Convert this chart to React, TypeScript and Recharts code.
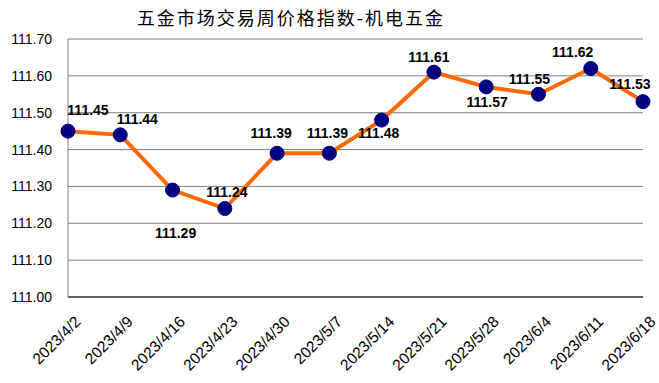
import { CartesianGrid, LabelList, Line, LineChart, XAxis, YAxis } from "recharts";

const weeks = [
  "2023/4/2",
  "2023/4/9",
  "2023/4/16",
  "2023/4/23",
  "2023/4/30",
  "2023/5/7",
  "2023/5/14",
  "2023/5/21",
  "2023/5/28",
  "2023/6/4",
  "2023/6/11",
  "2023/6/18",
];

const indexValues = [
  111.45, 111.44, 111.29, 111.24, 111.39, 111.39, 111.48, 111.61, 111.57,
  111.55, 111.62, 111.53,
];

const yTicks = [111.0, 111.1, 111.2, 111.3, 111.4, 111.5, 111.6, 111.7];

// where each value label sits relative to its dot (dx, dy of the text centre)
const labelOffsets: Array<[number, number]> = [
  [20, -21],
  [17, -16],
  [3, 43],
  [2, -17],
  [-6, -20],
  [-2, -20],
  [-3, 13],
  [-5, -15],
  [1, 15],
  [-9, -15],
  [-18, -16],
  [-13, -18],
];

const data = weeks.map((week, i) => ({ week, value: indexValues[i] }));

const FONT = "'Liberation Sans', Arial, sans-serif";

function WeekTick(props: any) {
  const { x, y, payload } = props;
  return (
    <g transform={`translate(${x + 6},${y + 10})`}>
      <text
        transform="rotate(-45)"
        textAnchor="end"
        dy="0.7em"
        fill="#000"
        fontSize={15.5}
        fontFamily={FONT}
      >
        {payload.value}
      </text>
    </g>
  );
}

function ValueLabel(props: any) {
  const { x, y, value, index } = props;
  const [dx, dy] = labelOffsets[index] ?? [0, -15];
  return (
    <text
      x={x + dx}
      y={y + dy}
      textAnchor="middle"
      dominantBaseline="central"
      fontSize={14}
      fontWeight="bold"
      fontFamily={FONT}
      fill="#000"
    >
      {Number(value).toFixed(2)}
    </text>
  );
}

export default function App() {
  return (
    <div
      style={{
        position: "absolute",
        left: 0,
        top: 0,
        width: 659,
        height: 383,
        background: "#fff",
        fontFamily: FONT,
      }}
    >
      <div
        style={{
          position: "absolute",
          top: 4,
          left: 0,
          width: 582,
          textAlign: "center",
          fontSize: 18,
          letterSpacing: 2,
          fontFamily: "'Noto Sans CJK SC', sans-serif",
          color: "#000",
        }}
      >
        五金市场交易周价格指数-机电五金
      </div>
      <LineChart
        width={659}
        height={383}
        data={data}
        margin={{ top: 39, right: 16, bottom: 0, left: 8 }}
      >
        <CartesianGrid stroke="#808080" vertical={false} />
        <XAxis
          dataKey="week"
          height={86}
          padding={{ left: 0, right: 0 }}
          axisLine={{ stroke: "#000" }}
          tickLine={false}
          tick={<WeekTick />}
          interval={0}
        />
        <YAxis
          width={60}
          domain={[111.0, 111.7]}
          ticks={yTicks}
          tickFormatter={(v) => Number(v).toFixed(2)}
          axisLine={{ stroke: "#808080" }}
          tickLine={false}
          tick={{ fill: "#000", fontSize: 14, fontFamily: FONT }}
          tickMargin={10}
        />
        <Line
          type="linear"
          dataKey="value"
          stroke="#FF6A00"
          strokeWidth={4}
          dot={{ r: 7, fill: "#000080", stroke: "#000080", strokeWidth: 1 }}
          isAnimationActive={false}
        >
          <LabelList dataKey="value" content={<ValueLabel />} />
        </Line>
      </LineChart>
    </div>
  );
}
